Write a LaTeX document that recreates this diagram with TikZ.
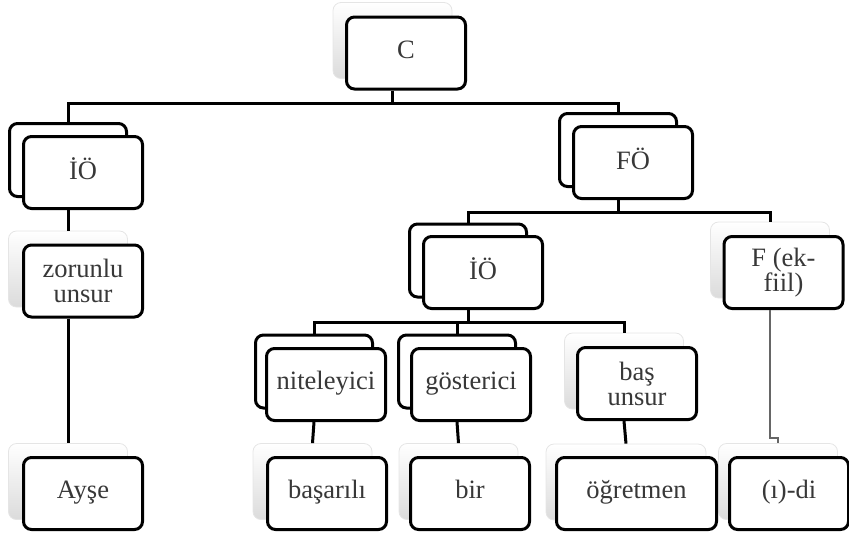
\documentclass[tikz,border=0pt]{standalone}
\usepackage{fontspec}
\setmainfont{Liberation Serif}

\tikzset{
  front/.style={draw=black, line width=3pt, rounded corners=8pt, fill=white,
    minimum width=119pt, minimum height=72pt, inner sep=0pt, align=center,
    text=black!78, font=\fontsize{26.5}{25}\selectfont},
  oneline/.style={front, execute at begin node=\strut},
  stacked/.style={draw=black, line width=3pt, rounded corners=8pt, fill=white,
    minimum width=117pt, minimum height=73pt, inner sep=0pt},
  faded/.style={draw=black!10, line width=0.8pt, rounded corners=8pt,
    top color=white, bottom color=black!14, minimum width=119pt,
    minimum height=76pt, inner sep=0pt},
  link/.style={line width=3pt},
  thinlink/.style={line width=1.2pt, black!60},
}

\begin{document}
\begin{tikzpicture}[x=1pt, y=-1pt]
  \useasboundingbox (0,0) rectangle (849,539);

  % back boxes
  \node[faded]   (Cb)    at (392.5, 40.5) {};
  \node[stacked] (IOab)  at (68, 160) {};
  \node[stacked] (FOb)   at (618, 150) {};
  \node[faded]   (zorb)  at (68, 269) {};
  \node[faded]   (ayb)   at (68, 481.5) {};
  \node[stacked] (IObb)  at (468, 260.5) {};
  \node[faded]   (Fb)    at (770, 260) {};
  \node[stacked] (nitb)  at (314, 371.5) {};
  \node[stacked] (gosb)  at (457, 371.5) {};
  \node[faded]   (basb)  at (624, 371) {};
  \node[faded]   (bsrb)  at (312.5, 481.5) {};
  \node[faded]   (birb)  at (458.5, 481.5) {};
  \node[faded, minimum width=160pt] (ogrb) at (626, 482) {};
  \node[faded]   (idib)  at (778, 481.5) {};

  % front boxes
  \node[oneline] (C)   at (406, 53)      {C};
  \node[oneline] (IOa) at (83, 172.5)    {İÖ};
  \node[oneline] (FO)  at (633, 162.5)   {FÖ};
  \node[front]   (zor) at (83, 281)      {zorunlu\\unsur};
  \node[oneline] (ay)  at (83, 493.5)    {Ayşe};
  \node[oneline] (IOb) at (483, 272.5)   {İÖ};
  \node[front]   (F)   at (783.5, 272.5) {F (ek-\\fiil)};
  \node[oneline] (nit) at (326, 384.5)   {niteleyici};
  \node[oneline] (gos) at (471, 384.5)   {gösterici};
  \node[front]   (bas) at (637, 383.5)   {baş\\unsur};
  \node[oneline] (bsr) at (327, 493.5)   {başarılı};
  \node[oneline] (bir) at (470, 493.5)   {bir};
  \node[oneline, minimum width=160pt] (ogr) at (636.5, 493.5) {öğretmen};
  \node[oneline] (idi) at (789, 493.5)   {(ı)-di};

  % connectors
  \coordinate (busA) at (0, 103);
  \coordinate (busB) at (0, 212);
  \coordinate (busC) at (0, 322);
  \coordinate (jog)  at (0, 438);

  \draw[link] (Cb |- C.south) -- (Cb |- busA) -| (IOab.north);
  \draw[link] (Cb |- busA) -| (FOb.north);
  \draw[link] (IOab |- IOa.south) -- (zorb.north);
  \draw[link] (zorb |- zor.south) -- (ayb.north);

  \draw[link] (FOb |- FO.south) -- (FOb |- busB) -| (IObb.north);
  \draw[link] (FOb |- busB) -| (Fb.north);
  \draw[thinlink] (Fb |- F.south) -- (Fb |- jog) -| (idib.north);

  \draw[link] (IObb |- IOb.south) -- (IObb |- busC) -| (nitb.north);
  \draw[link] (IObb |- busC) -| (gosb.north);
  \draw[link] (IObb |- busC) -| (basb.north);

  \draw[link] (nitb |- nit.south) -- (bsrb.north);
  \draw[link] (gosb |- gos.south) -- (birb.north);
  \draw[link] (basb |- bas.south) -- (ogrb.north);
\end{tikzpicture}
\end{document}
